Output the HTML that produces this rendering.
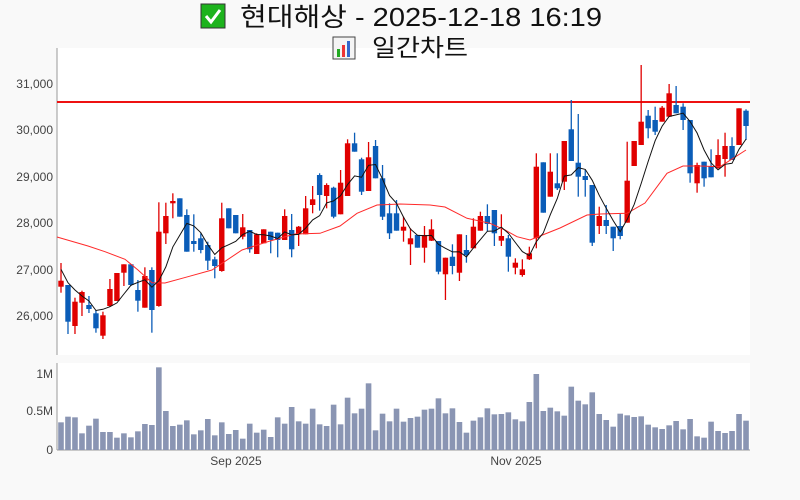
<!DOCTYPE html>
<html><head><meta charset="utf-8"><style>
body{margin:0;width:800px;height:500px;background:#f9f9f9;overflow:hidden;font-family:"Liberation Sans","Noto Sans CJK KR",sans-serif}
svg{position:absolute;left:0;top:0}
</style></head><body>
<svg id="s" width="800" height="500" xmlns="http://www.w3.org/2000/svg">
<rect x="57" y="48" width="693" height="307" fill="#fff"/>
<rect x="57" y="363" width="693" height="87" fill="#fff"/>
<g font-family="Liberation Sans, Noto Sans CJK KR, sans-serif" fill="#111">
<rect x="201" y="4" width="24" height="24" fill="#1db31d" stroke="#333" stroke-width="1"/>
<path d="M206 16 l5 6 l9 -12" stroke="#fff" stroke-width="3" fill="none"/>
<text x="240" y="26" font-size="26" textLength="362" lengthAdjust="spacingAndGlyphs">현대해상 - 2025-12-18 16:19</text>
<rect x="333" y="37" width="22" height="22" fill="#f4f4f4" stroke="#444"/>
<rect x="337" y="49" width="3" height="8" fill="#2a2"/><rect x="342" y="45" width="3" height="12" fill="#e33"/><rect x="347" y="41" width="3" height="16" fill="#36c"/>
<text x="372" y="56" font-size="24" textLength="96" lengthAdjust="spacingAndGlyphs">일간차트</text>
</g>
<g font-size="12" fill="#444" text-anchor="end" font-family="Liberation Sans, sans-serif">
<text x="53" y="88">31,000</text><text x="53" y="134">30,000</text><text x="53" y="181">29,000</text>
<text x="53" y="227">28,000</text><text x="53" y="274">27,000</text><text x="53" y="320">26,000</text>
<text x="53" y="378">1M</text><text x="53" y="415">0.5M</text><text x="53" y="454">0</text>
</g>
<g font-size="12" fill="#444" text-anchor="middle" font-family="Liberation Sans, sans-serif">
<text x="236" y="465">Sep 2025</text><text x="516" y="465">Nov 2025</text>
</g>
<line x1="57" y1="48" x2="57" y2="355" stroke="#999"/>
<line x1="57" y1="363" x2="57" y2="450" stroke="#999"/>
<line x1="57" y1="450" x2="750" y2="450" stroke="#999"/>
<g id="g"></g>
</svg>
<script>
var C=[[286.7,280.7,263,292.7],[285,321.7,285,334],[326,301.7,297.7,334],[302.7,292,290.7,316],[305,309,296,313],[313.3,328.3,310,332.7],[335.7,315.3,311.7,339],[306,289,279,306.7],[301,273,273,301],[272.7,264.3,264.3,286],[264.3,285,264.3,286],[290,300.7,280,311.7],[307.7,276,267.3,307.7],[270,310,267.3,332.7],[306,231.7,202.3,306.7],[233.3,216,202.7,244],[203.3,201,193.3,218.3],[198.3,216.7,198.3,216.7],[215,251.7,209.3,251.7],[241,244,214.3,251.7],[238.3,250,233.3,253.3],[245,260.7,241.7,270],[259.3,266,256.7,278.3],[271,218.3,202.7,271.7],[208.3,228.3,208.3,228.3],[215,233.3,215,233.3],[236.7,227.3,214,239.3],[230,249.3,230,252.7],[254,234.3,233.3,254],[243.3,229.3,229.3,243.3],[231.7,240,231.7,253.3],[232.7,240,232.7,257.3],[240,216,209.3,240],[230,249.3,214,257.3],
[234.3,226.7,226,246],[234.3,208.3,196,234.3],[205,199.3,186,213.3],[175,195,173.3,210.7],[196,185,183.3,208.3],[187.7,216.7,186.7,218.3],[214.3,182.7,170,214.3],[196,143.3,139.3,196],[143.3,151.7,132.7,151.7],[159.3,191.7,157.7,195],[191,157.3,142,191],[146,178.3,140,178.3],[178.3,216.7,165,220],[213.3,233.3,203.3,239],[213.3,230.7,200,230.7],[230.7,226.7,216.7,241.7],[244.3,238.3,228.3,265],[235,247.7,235,247.7],[247.7,235,226,262.7],[240.7,229.3,219.3,241],[241,271.7,241,274.3],[274.3,257.7,257.7,300],[256.7,266,244.3,274.3],[272.7,234.3,234.3,281],[250,255,235,262.7],[248.3,226.7,218.3,248.3],[230.7,216,211.7,230.7],[216,224,204.3,231],[210,233.3,210,246],[240.7,236,214.3,246],[238.3,256.7,235,271.7],[267.7,262.7,258.3,274.3],[275,269.3,259.3,276.7],
[259.3,253.3,246.7,260],[238.3,166.7,153.3,248.3],[162.3,212.7,162.3,212.7],[196.7,171.7,153.3,196.7],[183.3,188.3,153.3,190],[181.7,141,141,190],[129.3,161,100,161],[162.7,176.7,114,196.7],[176,180,170,196.7],[185,242.7,185,246],[226,216,206.7,234],[220,226,205,234],[226.7,238.3,226.7,251],[226,236,214,239.3],[222.7,180.7,141.7,222.7],[166,141,141,166],[145,121.7,65,145],[115.7,128.3,110,138.3],[120,131.7,106.7,135],[121.7,107.7,106,121.7],[116.7,93.3,84,116.7],[105,113.3,86,113.3],[106.7,120,103.3,130],[120,173.3,120,182.7],[183.3,165,162.7,192.7],[161.7,178.3,161.7,186.7],[166,177.3,149.3,177.3],[168.3,155,139.3,168.3],[159,146,132.7,176.7],[146,160,137.3,160],[145,108.3,108.3,145],[110.7,126,109.3,140]];
var V1=[187,170,172,220,197,176,216,216,233,220,232,214,192,195,22,153,198,194,181,223,211,177,226,187,222,210,236,191,218,209,231,172,191,141,184,191,146,193,198,134,193,113,160,146,70,211,161,184,146,185];
var V2=[174,170,149,146,115,160,145,186,218,182,172,145,163,162,157,178,184,126,42,153,143,154,167,80,122,133,97,162,180,200,161,166,171,169,194,202,207,196,183,208,177,229,233,185,213,219,213,162,182];
var V=V1.concat(V2).map(function(t){return (270-t)/3});
var h='';
function X(i){return 61+i*6.99}
h+='<line x1="57" y1="102" x2="750" y2="102" stroke="#ee1111" stroke-width="2"/>';
for(var i=0;i<C.length;i++){var c=C[i],x=X(i),up=c[1]<c[0],col=up?'#e00000':'#0b5db8';
var t=Math.min(c[0],c[1]),b=Math.max(c[0],c[1]);if(b-t<1.5){b=t+1.5}
h+='<line x1="'+x+'" y1="'+c[2]+'" x2="'+x+'" y2="'+c[3]+'" stroke="'+col+'" stroke-width="1.3"/>';
h+='<rect x="'+(x-2.7)+'" y="'+t+'" width="5.4" height="'+(b-t)+'" fill="'+col+'"/>';
h+='<rect x="'+(x-2.8)+'" y="'+(450-V[i])+'" width="5.6" height="'+V[i]+'" fill="#8a95b3"/>';}
var r=[[57,237],[88,246],[105,251.7],[125,259.3],[138,270],[152,282.7],[165,283],[188,276.7],[212,270],[242,250],[270,241],[295,234],[320,233.3],[340,226],[357,213.3],[377,205],[400,204],[430,205],[445,207],[467,218.3],[490,223.3],[505,230],[517,236.7],[530,240],[540,236],[560,228],[587,215],[600,214],[627,213.3],[645,203],[667,173.3],[683,166],[700,166],[720,166.7],[746,150]];
h+='<polyline fill="none" stroke="#ff2a2a" stroke-width="1" points="'+r.map(function(p){return p.join(',')}).join(' ')+'"/>';
var m=[269.3,282.7,290,296],pts=[];
for(var i=0;i<C.length;i++){var y;if(i<4)y=m[i];else{y=0;for(var k=i-4;k<=i;k++)y+=C[k][1];y/=5}pts.push(X(i)+','+y.toFixed(1))}
h+='<polyline fill="none" stroke="#111" stroke-width="1" points="'+pts.join(' ')+'"/>';
document.getElementById('g').innerHTML=h;
</script>
</body></html>
